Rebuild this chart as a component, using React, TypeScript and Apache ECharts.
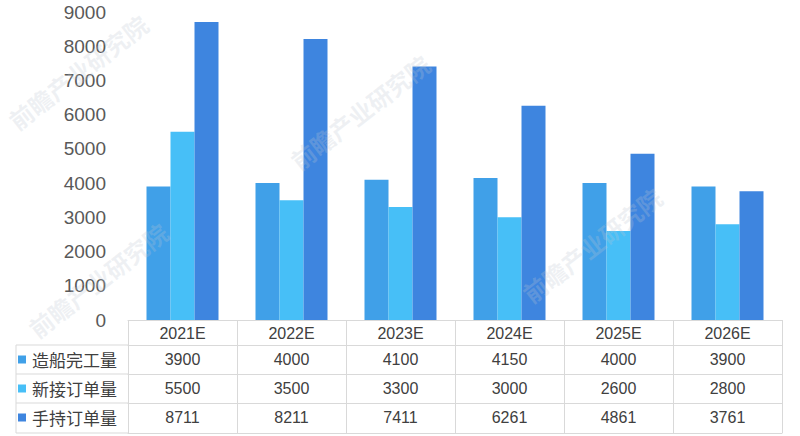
import React, { useEffect, useRef } from "react";
import * as echarts from "echarts";

const categories = ["2021E", "2022E", "2023E", "2024E", "2025E", "2026E"];
const seriesNames = ["造船完工量", "新接订单量", "手持订单量"];
const completed = [3900, 4000, 4100, 4150, 4000, 3900];
const newOrders = [5500, 3500, 3300, 3000, 2600, 2800];
const backlog = [8711, 8211, 7411, 6261, 4861, 3761];
const yTicks = { min: 0, max: 9000, interval: 1000 };

const colors = ["#40A0E8", "#47BFF7", "#3E85DF"];
const FONT = '"Liberation Sans", Arial, "Noto Sans CJK SC", sans-serif';
const LINE = "#D9D9D9";

export default function App() {
  const ref = useRef<HTMLDivElement>(null);
  useEffect(() => {
    if (!ref.current) return;
    const chart = echarts.init(ref.current, null, { renderer: "svg" });
    const gridLeft = 128;
    const gridBottomY = 320;
    const rowH = 29;
    const rows = [completed, newOrders, backlog];

    const baseAxis = {
      type: "category",
      data: categories,
      position: "bottom",
      gridIndex: 0,
      axisLine: { show: true, lineStyle: { color: LINE, width: 1 } },
      axisTick: { show: false },
      splitLine: { show: false },
    };

    const xAxes: any[] = [
      {
        ...baseAxis,
        offset: 0,
        axisTick: {
          show: true,
          length: 113,
          inside: false,
          lineStyle: { color: LINE, width: 1 },
        },
        axisLabel: {
          interval: 0,
          margin: 5,
          color: "#404040",
          fontSize: 16,
          fontFamily: FONT,
        },
      },
    ];
    rows.forEach((arr, i) => {
      xAxes.push({
        ...baseAxis,
        offset: 25 + rowH * i,
        axisLabel: {
          interval: 0,
          margin: 6,
          color: "#404040",
          fontSize: 16,
          fontFamily: FONT,
          formatter: (_v: string, idx: number) => String(arr[idx]),
        },
      });
    });
    xAxes.push({
      ...baseAxis,
      offset: 25 + rowH * 3 + 1,
      axisLabel: { show: false },
    });

    const lineYs = [345, 374, 403, 433];
    const graphics: any[] = lineYs.map((y) => ({
      type: "line",
      shape: { x1: 16, y1: y, x2: gridLeft, y2: y },
      style: { stroke: LINE, lineWidth: 1 },
      silent: true,
    }));
    graphics.push({
      type: "line",
      shape: { x1: 16, y1: 345, x2: 16, y2: 433 },
      style: { stroke: LINE, lineWidth: 1 },
      silent: true,
    });
    const marks = [
      { x: 78, y: 72 },
      { x: 360, y: 112 },
      { x: 592, y: 245 },
      { x: 98, y: 280 },
    ];
    marks.forEach((m) => {
      graphics.push({
        type: "text",
        x: m.x,
        y: m.y,
        rotation: 0.66,
        z: 100,
        silent: true,
        style: {
          text: "前瞻产业研究院",
          fontSize: 24,
          fontWeight: "bold",
          fontFamily: '"Noto Sans CJK SC", sans-serif',
          fill: "rgba(190,198,210,0.25)",
          align: "center",
          verticalAlign: "middle",
        },
      });
    });

    chart.setOption({
      animation: false,
      backgroundColor: "#ffffff",
      color: colors,
      textStyle: { fontFamily: FONT },
      grid: { left: gridLeft, right: 18, top: 12, bottom: 436 - gridBottomY },
      legend: {
        orient: "vertical",
        left: 18,
        top: 351,
        padding: 0,
        itemGap: 12,
        itemWidth: 8,
        itemHeight: 8,
        icon: "rect",
        selectedMode: false,
        data: seriesNames,
        textStyle: {
          fontSize: 17,
          lineHeight: 17,
          color: "#404040",
          fontFamily: '"Noto Sans CJK SC", sans-serif',
          padding: [0, 0, 0, 1],
        },
      },
      xAxis: xAxes,
      yAxis: {
        type: "value",
        min: yTicks.min,
        max: yTicks.max,
        interval: yTicks.interval,
        axisLine: { show: false },
        axisTick: { show: false },
        splitLine: { show: false },
        axisLabel: {
          margin: 22,
          color: "#595959",
          fontSize: 19,
          fontFamily: FONT,
          formatter: (v: number) => String(v),
        },
      },
      series: [completed, newOrders, backlog].map((d, i) => ({
        type: "bar",
        name: seriesNames[i],
        data: d,
        xAxisIndex: 0,
        barWidth: 24,
        barGap: "0%",
        itemStyle: { color: colors[i] },
      })),
      graphic: graphics,
    });
    return () => chart.dispose();
  }, []);
  return <div ref={ref} style={{ width: 800, height: 436, position: "absolute", left: 0, top: 0 }} />;
}
